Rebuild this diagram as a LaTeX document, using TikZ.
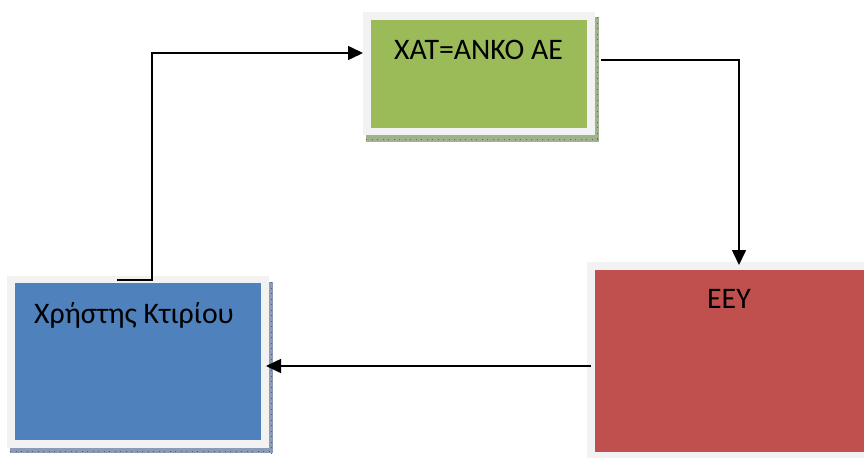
\documentclass[tikz,border=0pt]{standalone}
\usepackage{fontspec}
\setmainfont{Carlito}
\usetikzlibrary{arrows.meta}
\definecolor{grn}{HTML}{9BBB59}
\definecolor{blu}{HTML}{4F81BD}
\definecolor{rdd}{HTML}{C0504D}
\definecolor{frm}{HTML}{F2F2F2}
\definecolor{gsh}{RGB}{160,178,140}
\definecolor{bsh}{RGB}{140,155,180}
\tikzset{
  boxframe/.style={fill=frm, draw=none, inner sep=0pt, outer sep=0pt},
  boxfill/.style={draw=none, inner sep=0pt, outer sep=0pt},
  lbl/.style={font=\fontsize{29.8}{34}\selectfont, inner sep=0pt, text=black},
  conn/.style={line width=1.6pt, black, -{Triangle[length=15pt,width=14pt]}},
}
\begin{document}
\begin{tikzpicture}[x=1pt,y=-1pt]
\useasboundingbox (0,0) rectangle (864,458);
% shadows
\fill[gsh] (366,17) rectangle (599,142);
\fill[bsh] (10,282) rectangle (273,453);
\draw[gsh!60!black, line width=0.4pt, dash pattern=on 0.5pt off 5pt] (366,139) -- (599,139);
\draw[gsh!60!black, line width=0.4pt, dash pattern=on 0.5pt off 5pt] (597,17) -- (597,142);
\draw[bsh!60!black, line width=0.4pt, dash pattern=on 0.5pt off 5pt] (10,451) -- (273,451);
\draw[bsh!60!black, line width=0.4pt, dash pattern=on 0.5pt off 5pt] (271,282) -- (271,453);
% frames
\node[boxframe, minimum width=232pt, minimum height=123pt] (ankf) at (479,73.5) {};
\node[boxframe, minimum width=262pt, minimum height=172pt] (userf) at (138,362) {};
\node[boxframe, minimum width=290pt, minimum height=196pt] (eeyf) at (732,360) {};
% inner fills
\node[boxfill, fill=grn, minimum width=216pt, minimum height=108pt] (ank) at (479,74) {};
\node[boxfill, fill=blu, minimum width=246pt, minimum height=157pt] (user) at (138,361.5) {};
\node[boxfill, fill=rdd, minimum width=274pt, minimum height=182pt] (eey) at (732,361) {};
% labels
\node[lbl, anchor=base] (ankt) at (478.5,59) {XAT=ANKO AE};
\node[lbl, anchor=base west] (usert) at (34,323) {Χρήστης Κτιρίου};
\node[lbl, anchor=base] (eeyt) at (729,308) {EEY};
% connectors
\coordinate (s1) at (117,280);
\coordinate (k1) at (152,280);
\coordinate (s2) at (601,60);
\coordinate (s3) at (591,366);
\draw[conn] (s1) -- (k1) |- (ankf.west |- 0,53);
\draw[conn] (s2) -| (739,265);
\draw[conn] (s3) -- (266,366);
\end{tikzpicture}
\end{document}
